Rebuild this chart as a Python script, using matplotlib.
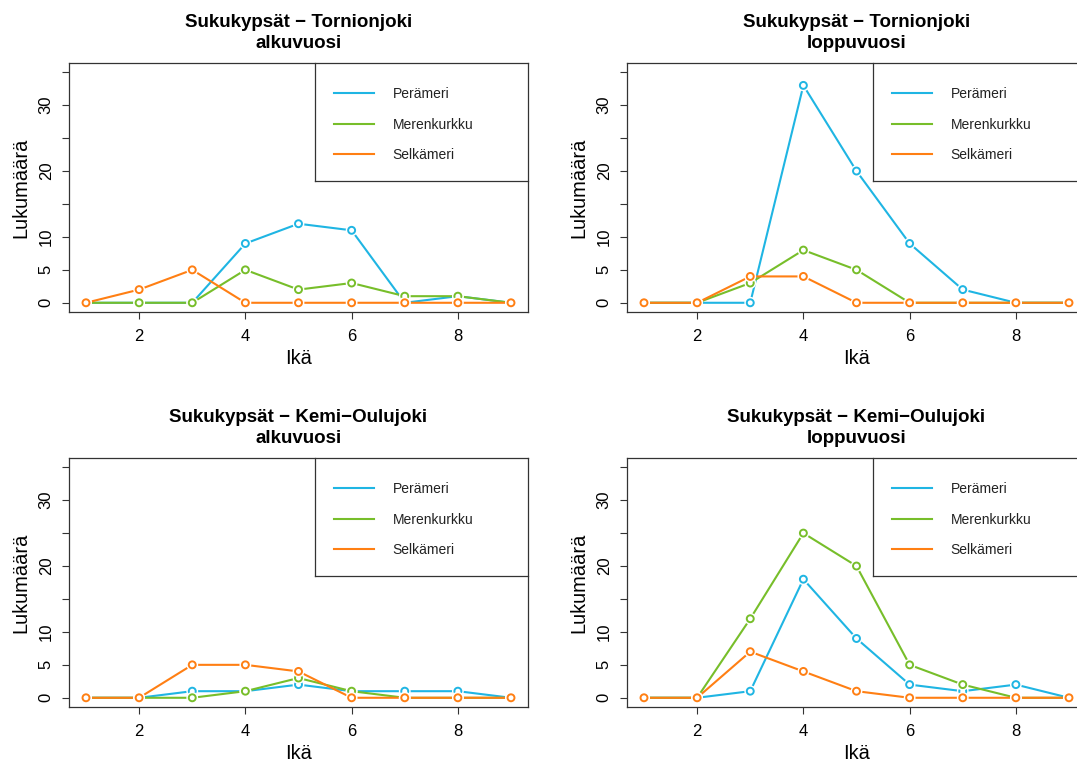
import matplotlib
matplotlib.use("Agg")
import matplotlib.pyplot as plt
import matplotlib.patheffects as pe
from matplotlib.lines import Line2D

plt.rcParams['font.family'] = ['Liberation Sans', 'DejaVu Sans']

ages = [1, 2, 3, 4, 5, 6, 7, 8, 9]
series_names = ["Perämeri", "Merenkurkku", "Selkämeri"]
colors = ["#1FB5E3", "#77BE2A", "#FF7F13"]

titles = [
    "Sukukypsät \u2212 Tornionjoki\nalkuvuosi",
    "Sukukypsät \u2212 Tornionjoki\nloppuvuosi",
    "Sukukypsät \u2212 Kemi\u2212Oulujoki\nalkuvuosi",
    "Sukukypsät \u2212 Kemi\u2212Oulujoki\nloppuvuosi",
]

# Tornionjoki alkuvuosi
torn_alku_peram = [0, 0, 0, 9, 12, 11, 0, 1, 0]
torn_alku_meren = [0, 0, 0, 5, 2, 3, 1, 1, 0]
torn_alku_selka = [0, 2, 5, 0, 0, 0, 0, 0, 0]
# Tornionjoki loppuvuosi
torn_loppu_peram = [0, 0, 0, 33, 20, 9, 2, 0, 0]
torn_loppu_meren = [0, 0, 3, 8, 5, 0, 0, 0, 0]
torn_loppu_selka = [0, 0, 4, 4, 0, 0, 0, 0, 0]
# Kemi-Oulujoki alkuvuosi
kemi_alku_peram = [0, 0, 1, 1, 2, 1, 1, 1, 0]
kemi_alku_meren = [0, 0, 0, 1, 3, 1, 0, 0, 0]
kemi_alku_selka = [0, 0, 5, 5, 4, 0, 0, 0, 0]
# Kemi-Oulujoki loppuvuosi
kemi_loppu_peram = [0, 0, 1, 18, 9, 2, 1, 2, 0]
kemi_loppu_meren = [0, 0, 12, 25, 20, 5, 2, 0, 0]
kemi_loppu_selka = [0, 0, 7, 4, 1, 0, 0, 0, 0]

panels = [
    [torn_alku_peram, torn_alku_meren, torn_alku_selka],
    [torn_loppu_peram, torn_loppu_meren, torn_loppu_selka],
    [kemi_alku_peram, kemi_alku_meren, kemi_alku_selka],
    [kemi_loppu_peram, kemi_loppu_meren, kemi_loppu_selka],
]

yticks = [0, 5, 10, 15, 20, 25, 30, 35]
yticklabels = ["0", "5", "10", "", "20", "", "30", ""]
xticks = [2, 4, 6, 8]

W, H = 1077, 762
fig = plt.figure(figsize=(W / 100, H / 100), dpi=100)

ax_w, ax_h = 459, 249
lefts = [69, 627]
tops = [63, 458]

for i, data in enumerate(panels):
    r, c = divmod(i, 2)
    l = lefts[c]
    t = tops[r]
    ax = fig.add_axes([l / W, (H - t - ax_h) / H, ax_w / W, ax_h / H])
    for vals, col in zip(data, colors):
        ax.plot(ages, vals, color=col, lw=1.5, zorder=2)
        ax.plot(ages, vals, linestyle='none', marker='o', ms=5.0, mew=1.4,
                mfc='white', mec=col, zorder=3,
                path_effects=[pe.Stroke(linewidth=3.5, foreground='white'), pe.Normal()])
    ax.set_xlim(0.68, 9.32)
    ax.set_ylim(-1.4, 36.4)
    ax.set_xticks(xticks)
    ax.set_yticks(yticks)
    ax.set_yticklabels(yticklabels, rotation=90, va='center')
    ax.tick_params(axis='both', length=5, width=0.8, labelsize=12, color='#333333')
    ax.tick_params(axis='x', pad=7)
    ax.tick_params(axis='y', pad=6)
    for s in ax.spines.values():
        s.set_linewidth(0.9)
        s.set_color('#333333')
    ax.set_xlabel("Ikä", fontsize=14.4, labelpad=4)
    ax.set_ylabel("Lukumäärä", fontsize=14.4, labelpad=6)
    ax.set_title(titles[i], fontsize=13.5, fontweight='bold', linespacing=1.3, pad=11)

    # legend frame (left and bottom edges; top/right coincide with the axes box)
    lx = (315 - 69) / ax_w
    ly = (312 - 181) / ax_h
    ax.plot([lx, lx], [ly, 1], transform=ax.transAxes, color='#333333', lw=0.9, clip_on=False, zorder=4)
    ax.plot([lx, 1.0], [ly, ly], transform=ax.transAxes, color='#333333', lw=0.9, clip_on=False, zorder=4)
    handles = [Line2D([], [], color=col, lw=1.5) for col in colors]
    ax.legend(handles, series_names, loc='upper left',
              bbox_to_anchor=((334 - 69) / ax_w - 0.012, 0.925), frameon=False,
              fontsize=10, handlelength=2.9, handletextpad=1.3, labelspacing=1.18,
              borderaxespad=0, labelcolor='#222222')

fig.savefig("out.png", dpi=100)
